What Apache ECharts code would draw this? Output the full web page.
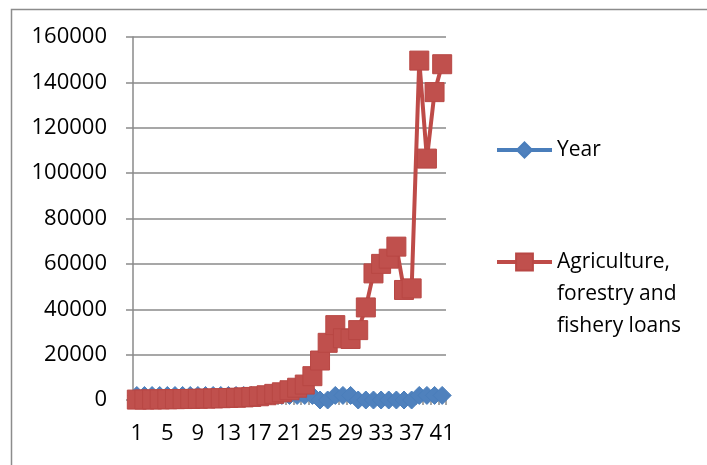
<!DOCTYPE html>
<html>
<head>
<meta charset="utf-8">
<script src="https://cdn.jsdelivr.net/npm/echarts@6/dist/echarts.min.js"></script>
<style>
  html, body { margin: 0; padding: 0; background: #ffffff; }
  #chart { width: 707px; height: 465px; }
</style>
</head>
<body>
<div id="chart"></div>
<script>
// Observation index (1..41) along the category axis
const categories = [
  '1', '2', '3', '4', '5', '6', '7', '8', '9', '10',
  '11', '12', '13', '14', '15', '16', '17', '18', '19', '20',
  '21', '22', '23', '24', '25', '26', '27', '28', '29', '30',
  '31', '32', '33', '34', '35', '36', '37', '38', '39', '40', '41'
];

// "Year" column as plotted (blank cells drawn as zero)
const yearValues = [
  1978, 1979, 1980, 1981, 1982, 1983, 1984, 1985, 1986, 1987,
  1988, 1989, 1990, 1991, 1992, 1993, 1994, 1995, 1996, 1997,
  1998, 1999, 2000, 2001, 0, 0, 2004, 2005, 2006, 0,
  0, 0, 0, 0, 0, 0, 0, 2015, 2016, 2017, 2018
];

// Agriculture, forestry and fishery loans
const loanValues = [
  180, 210, 240, 280, 320, 370, 420, 480, 550, 620,
  700, 790, 890, 1000, 1150, 1350, 1650, 2100, 2700, 3400,
  4300, 5400, 6800, 10500, 17400, 25200, 33000, 27200, 26900, 30800,
  40800, 55800, 60000, 62300, 67600, 48500, 49200, 149600, 106400, 135700,
  148000
];

const yTicks = { min: 0, max: 160000, interval: 20000 };

const FONT = '"Open Sans", "Noto Sans", sans-serif';
const GRID_GRAY = '#8a8a8a';
const BLUE = '#4F81BD';
const BLUE_LINE = '#4A7EBB';
const RED = '#C0504D';
const RED_LINE = '#BE4B48';

const chart = echarts.init(document.getElementById('chart'), null, { renderer: 'canvas' });

chart.setOption({
  backgroundColor: '#ffffff',
  animation: false,
  textStyle: { fontFamily: FONT, color: '#000000' },
  graphic: [{
    type: 'rect',
    left: 9, top: 7,
    shape: { x: 0, y: 0, width: 760, height: 520 },
    style: { fill: 'none', stroke: '#8c8c8c', lineWidth: 1.5 },
    silent: true
  }],
  grid: { left: 133, right: 261, top: 37, bottom: 65 },
  xAxis: {
    type: 'category',
    data: categories,
    boundaryGap: true,
    axisLine: { lineStyle: { color: GRID_GRAY, width: 1.5 } },
    axisTick: { show: true, interval: 0, length: 5, lineStyle: { color: GRID_GRAY, width: 1.5 } },
    axisLabel: { interval: 3, margin: 23, fontSize: 22, fontFamily: FONT, color: '#000000' },
    splitLine: { show: false }
  },
  yAxis: {
    type: 'value',
    min: yTicks.min,
    max: yTicks.max,
    interval: yTicks.interval,
    axisLine: { show: true, lineStyle: { color: GRID_GRAY, width: 1.5 } },
    axisTick: { show: true, length: 7, lineStyle: { color: GRID_GRAY, width: 1.5 } },
    axisLabel: {
      margin: 26, fontSize: 22, fontFamily: FONT, color: '#000000',
      formatter: (v) => String(v)
    },
    splitLine: { show: true, lineStyle: { color: GRID_GRAY, width: 1.5 } }
  },
  legend: [{
    data: ['Year'],
    left: 495, top: 134,
    padding: 0,
    itemWidth: 55, itemHeight: 19,
    lineStyle: { width: 4 },
    textStyle: { fontSize: 21, fontFamily: FONT, color: '#000000', lineHeight: 32 }
  }, {
    data: ['Agriculture, forestry and fishery loans'],
    left: 495, top: 182,
    padding: 0,
    itemWidth: 55, itemHeight: 21,
    lineStyle: { width: 4 },
    // two leading blank lines keep the first text line level with the icon
    formatter: () => '\n\nAgriculture,\nforestry and\nfishery loans',
    textStyle: { fontSize: 21, fontFamily: FONT, color: '#000000', lineHeight: 32 }
  }],
  series: [{
    name: 'Year',
    type: 'line',
    data: yearValues,
    symbol: 'diamond',
    symbolSize: 18,
    showAllSymbol: true,
    lineStyle: { color: BLUE_LINE, width: 4 },
    itemStyle: { color: BLUE, borderColor: BLUE_LINE, borderWidth: 1 },
    z: 2
  }, {
    name: 'Agriculture, forestry and fishery loans',
    type: 'line',
    data: loanValues,
    symbol: 'rect',
    symbolSize: 19,
    showAllSymbol: true,
    lineStyle: { color: RED_LINE, width: 4 },
    itemStyle: { color: RED, borderColor: '#B84744', borderWidth: 1 },
    z: 3
  }]
});
</script>
</body>
</html>
